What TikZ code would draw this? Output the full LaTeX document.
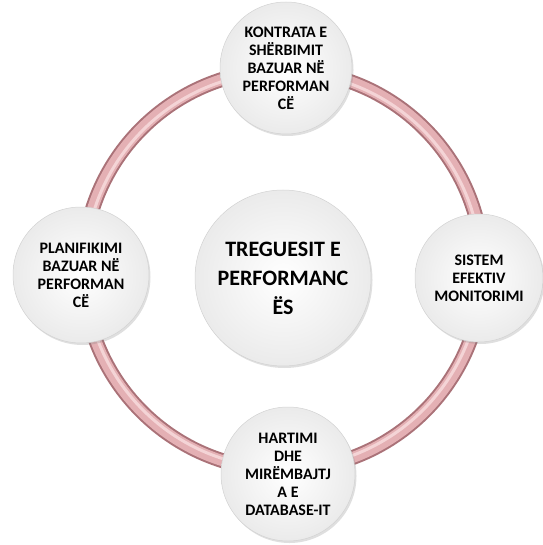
\documentclass[tikz,border=0pt]{standalone}
\usepackage{fontspec}
\setmainfont{Carlito}
\usetikzlibrary{shadows}

\definecolor{ringedge}{RGB}{170,114,120}
\definecolor{ringfill}{RGB}{228,176,180}
\definecolor{ringhi}{RGB}{244,212,214}

\begin{document}
\begin{tikzpicture}[x=1pt,y=-1pt,
	ball/.style={circle, minimum size=#1, inner sep=0pt, align=center,
		font=\bfseries\fontsize{16}{18}\selectfont,
		shading=radial, inner color=white, outer color=gray!16,
		draw=gray!35, line width=0.5pt,
		drop shadow={opacity=0.25, shadow xshift=1.5pt, shadow yshift=-2pt}},
	bigtext/.style={font=\bfseries\fontsize{22}{29}\selectfont}]
	\useasboundingbox (0,0) rectangle (542,545);
	\def\rr{200pt}

	% the ring behind the balls
	\draw [ringedge, line width=15pt] (283,270) circle (\rr);
	\draw [ringfill, line width=11pt] (283,270) circle (\rr);
	\draw [ringhi, line width=3pt] (283,270) circle (198pt);

	\node [ball=176pt, bigtext] (indicators) at (283,278) {TREGUESIT E\\PERFORMANC\\ËS};
	\node [ball=132pt] (contract) at (286,68) {KONTRATA E\\SHËRBIMIT\\BAZUAR NË\\PERFORMAN\\CË};
	\node [ball=136pt] (planning) at (81,275) {PLANIFIKIMI\\BAZUAR NË\\PERFORMAN\\CË};
	\node [ball=128pt] (monitoring) at (479,278) {SISTEM\\EFEKTIV\\MONITORIMI};
	\node [ball=134pt] (database) at (288,474) {HARTIMI\\DHE\\MIRËMBAJTJ\\A E\\DATABASE-IT};
\end{tikzpicture}
\end{document}
